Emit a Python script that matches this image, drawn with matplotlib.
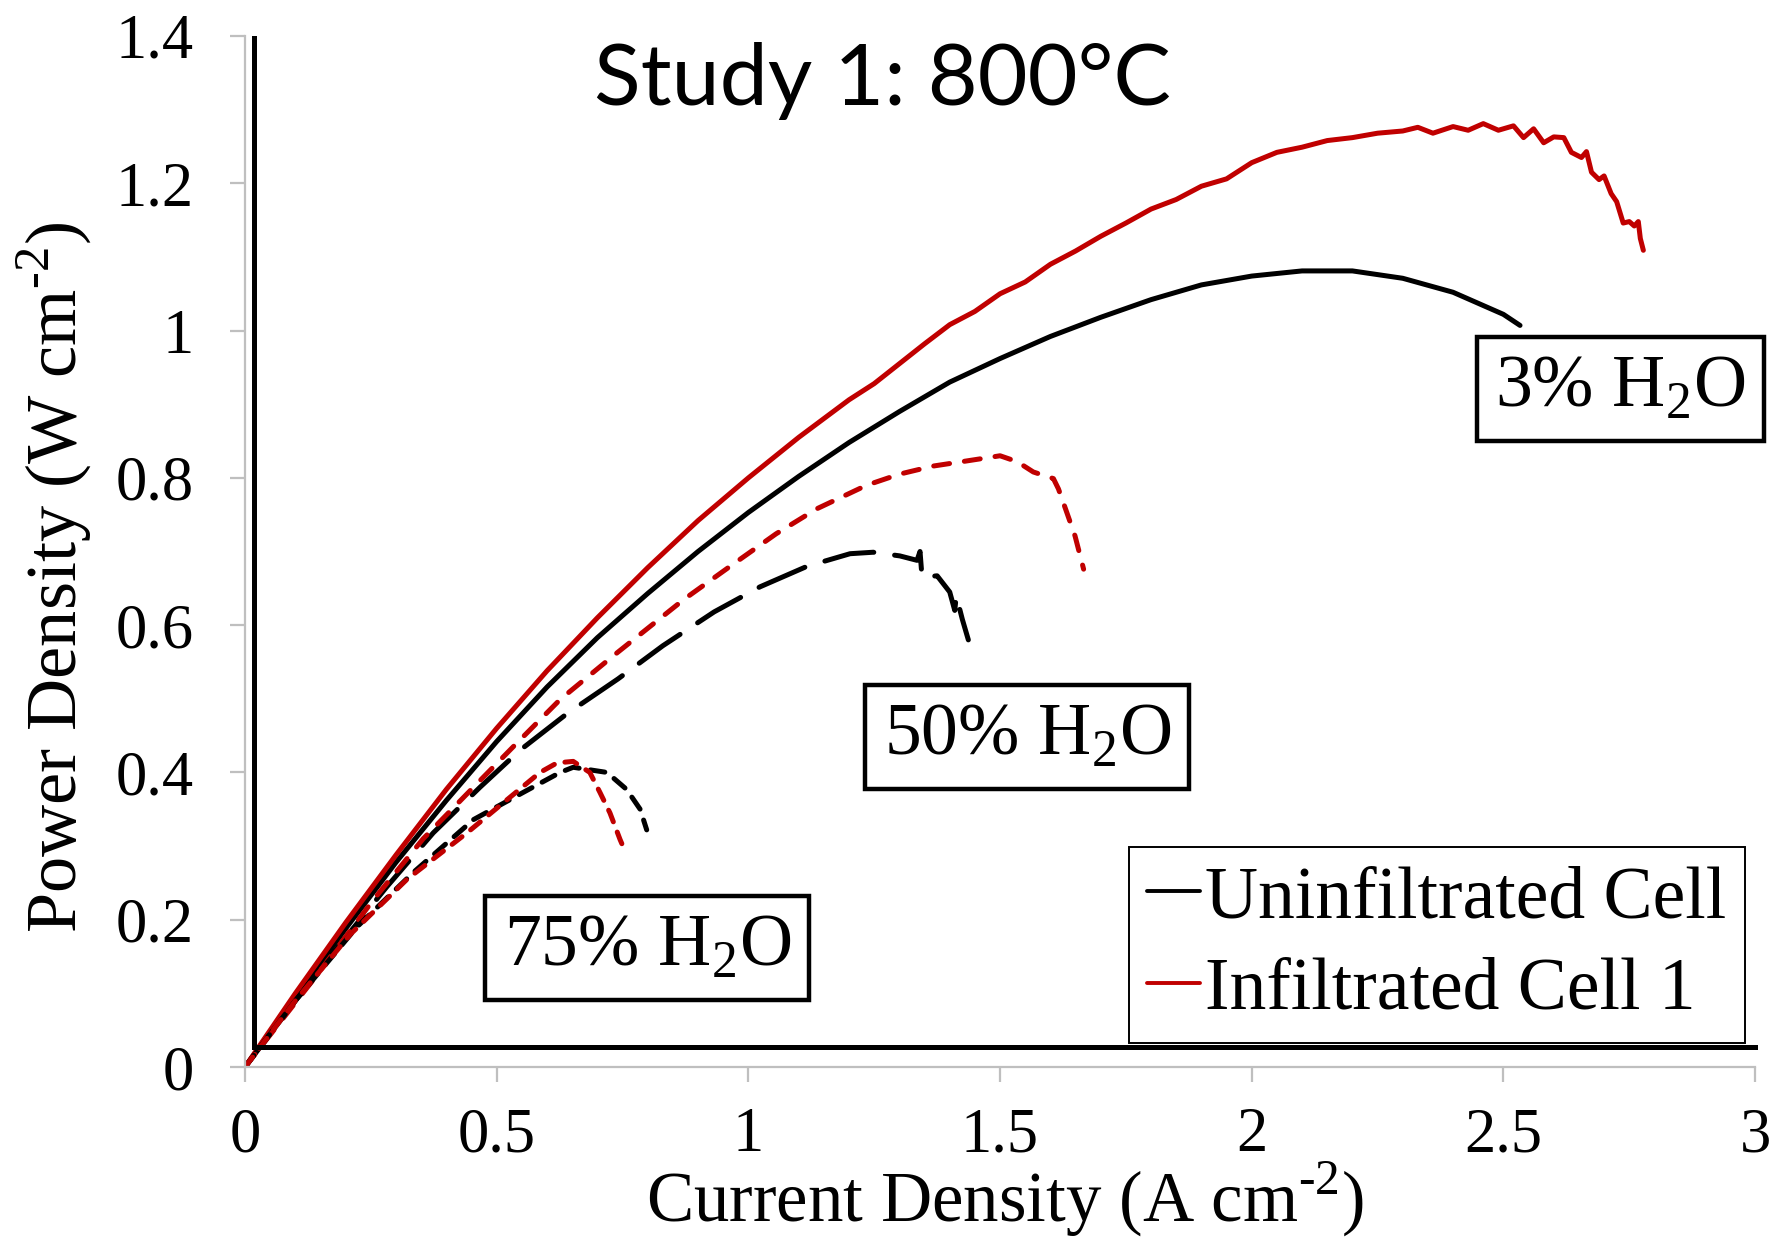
import numpy as np
import matplotlib.pyplot as plt

plt.rcParams['font.family'] = ['Liberation Serif', 'DejaVu Serif']
plt.rcParams['mathtext.fontset'] = 'custom'
plt.rcParams['mathtext.rm'] = 'Liberation Serif'

# 3% H2O
unif_3_x = [0, 0.1, 0.2, 0.3, 0.4, 0.5, 0.6, 0.7, 0.8, 0.9, 1.0, 1.1, 1.2, 1.3, 1.4, 1.5,
            1.6, 1.7, 1.8, 1.9, 2.0, 2.1, 2.2, 2.3, 2.4, 2.5, 2.533]
unif_3_y = [0, 0.095, 0.188, 0.278, 0.362, 0.442, 0.516, 0.583, 0.643, 0.70, 0.753, 0.802,
            0.848, 0.89, 0.93, 0.962, 0.992, 1.018, 1.042, 1.062, 1.074, 1.081, 1.081, 1.071,
            1.052, 1.022, 1.007]
inf_3_x = [0, 0.1, 0.2, 0.3, 0.4, 0.5, 0.6, 0.7, 0.8, 0.9, 1.0, 1.1, 1.2, 1.25, 1.3, 1.35,
           1.4, 1.45, 1.5, 1.55, 1.6, 1.65, 1.7, 1.75, 1.8, 1.85, 1.9, 1.95, 2.0, 2.05, 2.1,
           2.15, 2.2, 2.25, 2.3, 2.33, 2.36, 2.4, 2.43, 2.46, 2.49, 2.52, 2.54, 2.56, 2.58,
           2.6, 2.62, 2.635, 2.655, 2.665, 2.675, 2.69, 2.70, 2.714, 2.725, 2.738, 2.75, 2.76,
           2.768, 2.772, 2.778]
inf_3_y = [0, 0.1, 0.196, 0.288, 0.377, 0.46, 0.538, 0.61, 0.678, 0.742, 0.80, 0.855, 0.906,
           0.928, 0.955, 0.982, 1.008, 1.026, 1.05, 1.066, 1.09, 1.108, 1.128, 1.146, 1.165,
           1.178, 1.196, 1.206, 1.228, 1.242, 1.249, 1.258, 1.262, 1.268, 1.271, 1.276, 1.268,
           1.277, 1.272, 1.281, 1.272, 1.278, 1.262, 1.274, 1.255, 1.263, 1.262, 1.242, 1.235,
           1.243, 1.215, 1.205, 1.21, 1.186, 1.175, 1.146, 1.148, 1.142, 1.148, 1.125, 1.109]

# 50% H2O
unif_50_x = [0, 0.1, 0.175, 0.282, 0.374, 0.467, 0.546, 0.64, 0.741, 0.83, 0.932, 1.023, 1.117,
             1.202, 1.248, 1.301, 1.335, 1.341, 1.345, 1.375, 1.40, 1.41, 1.413, 1.425, 1.437]
unif_50_y = [0, 0.09, 0.155, 0.245, 0.318, 0.38, 0.43, 0.48, 0.527, 0.572, 0.618, 0.652, 0.68,
             0.697, 0.699, 0.694, 0.688, 0.70, 0.665, 0.667, 0.645, 0.62, 0.64, 0.608, 0.58]
inf_50_x = [0, 0.135, 0.255, 0.354, 0.454, 0.533, 0.626, 0.731, 0.872, 0.964, 1.055, 1.136,
            1.235, 1.30, 1.367, 1.434, 1.50, 1.534, 1.566, 1.606, 1.616, 1.63, 1.649, 1.666]
inf_50_y = [0, 0.118, 0.227, 0.31, 0.38, 0.435, 0.499, 0.558, 0.635, 0.68, 0.724, 0.758,
            0.79, 0.805, 0.816, 0.823, 0.83, 0.822, 0.808, 0.799, 0.785, 0.758, 0.721, 0.676]

# 75% H2O
unif_75_x = [0, 0.1, 0.222, 0.334, 0.454, 0.553, 0.626, 0.652, 0.719, 0.758, 0.785, 0.798]
unif_75_y = [0, 0.09, 0.19, 0.264, 0.336, 0.373, 0.40, 0.407, 0.40, 0.377, 0.35, 0.322]
inf_75_x = [0, 0.1, 0.209, 0.322, 0.441, 0.533, 0.586, 0.62, 0.652, 0.685, 0.705, 0.725, 0.745, 0.755]
inf_75_y = [0, 0.09, 0.18, 0.255, 0.318, 0.37, 0.40, 0.413, 0.415, 0.40, 0.373, 0.345, 0.309, 0.293]

x_ticks = [0, 0.5, 1, 1.5, 2, 2.5, 3]
x_labels = ['0', '0.5', '1', '1.5', '2', '2.5', '3']
y_ticks = [0, 0.2, 0.4, 0.6, 0.8, 1.0, 1.2, 1.4]
y_labels = ['0', '0.2', '0.4', '0.6', '0.8', '1', '1.2', '1.4']

# annotation boxes
box_labels = ['3% H$_\\mathregular{2}$O', '50% H$_\\mathregular{2}$O', '75% H$_\\mathregular{2}$O']
box_x = [2.732, 1.554, 0.799]
box_y = [0.921, 0.448, 0.162]

# thick inner frame lines
frame_x0 = 0.018
frame_y0 = 0.027
frame_top = 1.397

red = '#c00000'
gray = '#bfbfbf'

fig = plt.figure(figsize=(17.73, 12.41), dpi=100)
ax = fig.add_axes([0.1382, 0.1402, 0.8517, 0.8308])

lw = 3.6
ax.plot(unif_3_x, unif_3_y, color='black', lw=lw, solid_capstyle='round', label='Uninfiltrated Cell')
ax.plot(inf_3_x, inf_3_y, color=red, lw=lw, solid_capstyle='round', solid_joinstyle='round',
        label='Infiltrated Cell 1')
ax.plot(unif_50_x, unif_50_y, color='black', lw=lw, dashes=(10, 4.2), dash_capstyle='round')
ax.plot(inf_50_x, inf_50_y, color=red, lw=lw, dashes=(3.2, 3.0), dash_capstyle='round')
ax.plot(unif_75_x, unif_75_y, color='black', lw=lw, dashes=(2.9, 2.3), dash_capstyle='round')
ax.plot(inf_75_x, inf_75_y, color=red, lw=lw, dashes=(2.5, 2.2), dash_capstyle='round')

ax.plot([frame_x0, frame_x0], [frame_y0, frame_top], color='black', lw=3.6, clip_on=False)
ax.plot([frame_x0, 3.0], [frame_y0, frame_y0], color='black', lw=3.6, clip_on=False)

for t, bx, by in zip(box_labels, box_x, box_y):
    ax.text(bx, by, t, fontsize=53, ha='center', va='center',
            bbox=dict(boxstyle='square,pad=0.25', fc='white', ec='black', lw=3.2))

ax.text(0.422, 0.956, 'Study 1: 800°C', transform=ax.transAxes, fontsize=62,
        family=['Lato', 'DejaVu Sans'], ha='center', va='center')

ax.set_xlim(0, 3)
ax.set_ylim(0, 1.4)
ax.set_xticks(x_ticks)
ax.set_xticklabels(x_labels)
ax.set_yticks(y_ticks)
ax.set_yticklabels(y_labels)
for s in ['top', 'right']:
    ax.spines[s].set_visible(False)
for s in ['left', 'bottom']:
    ax.spines[s].set_color(gray)
    ax.spines[s].set_linewidth(1.6)
ax.tick_params(direction='out', length=11, width=1.6, color=gray, labelsize=45)
ax.tick_params(axis='y', pad=26)
ax.tick_params(axis='x', pad=18)

ax.set_xlabel('Current Density (A cm$^{\\text{-2}}$)', fontsize=51)
ax.set_ylabel('Power Density (W cm$^{\\text{-2}}$)', fontsize=52)
ax.xaxis.set_label_coords(0.503, -0.090)
ax.yaxis.set_label_coords(-0.100, 0.475)

leg = ax.legend(loc='lower right', bbox_to_anchor=(0.993, 0.023), fontsize=53,
                handlelength=0.72, handletextpad=0.06, borderaxespad=0, borderpad=0.25,
                labelspacing=0.33, fancybox=False, framealpha=1, edgecolor='black')
leg.get_frame().set_linewidth(1.4)
for h in leg.get_lines():
    h.set_linewidth(2.8)

fig.savefig('out.png', dpi=100)
